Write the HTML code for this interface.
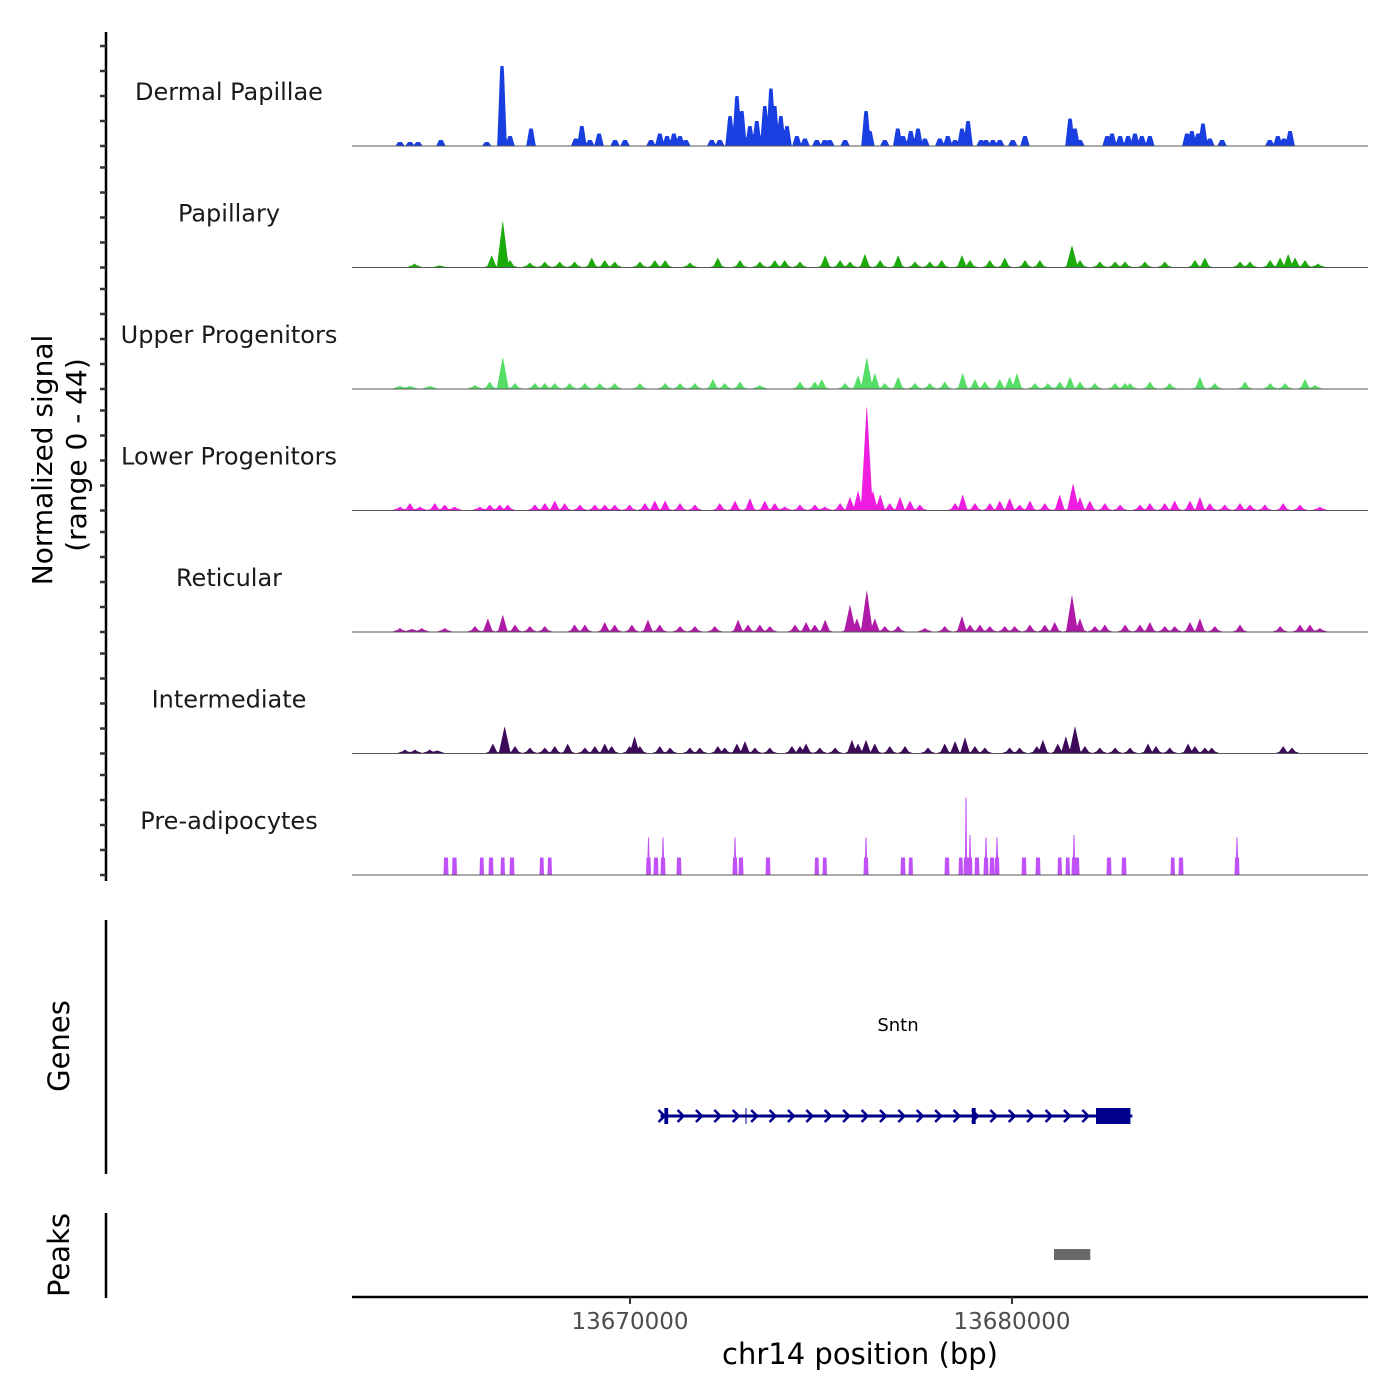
<!DOCTYPE html>
<html><head><meta charset="utf-8"><style>
html,body{margin:0;padding:0;background:#fff}
svg{display:block;font-family:"DejaVu Sans","Liberation Sans",sans-serif}
</style></head><body>
<svg id="chart" width="1400" height="1400" viewBox="0 0 1400 1400" xmlns="http://www.w3.org/2000/svg">
<rect width="1400" height="1400" fill="#fff"/>
<g id="tracks"></g>
<line x1="106" y1="32" x2="106" y2="881" stroke="#000" stroke-width="2.5"/>
<g id="yticks"></g>
<text transform="translate(52,460) rotate(-90)" text-anchor="middle" font-size="28" fill="#000">Normalized signal</text>
<text transform="translate(86,455) rotate(-90)" text-anchor="middle" font-size="28" fill="#000">(range 0 - 44)</text>

<line x1="106" y1="920" x2="106" y2="1174" stroke="#000" stroke-width="2.5"/>
<text transform="translate(69,1046) rotate(-90)" text-anchor="middle" font-size="29">Genes</text>
<g id="gene"></g>

<line x1="106" y1="1213" x2="106" y2="1298" stroke="#000" stroke-width="2.5"/>
<text transform="translate(69,1255) rotate(-90)" text-anchor="middle" font-size="29">Peaks</text>
<g id="peaks"></g>

<line x1="352" y1="1297" x2="1368" y2="1297" stroke="#000" stroke-width="2.5"/>
<g id="xticks"></g>
<text x="860" y="1364" text-anchor="middle" font-size="29">chr14 position (bp)</text>
</svg>
<script>
// genomic window
const regionStart = 13662723;
const regionEnd = 13689320;
const xTickValues = [13670000, 13680000];
const xTickLabels = ["13670000", "13680000"];
const yMax = 44;
const yTickValues = [0, 10, 20, 30, 40];
// track names and colors
const trackNames = ["Dermal Papillae","Papillary","Upper Progenitors","Lower Progenitors","Reticular","Intermediate","Pre-adipocytes"];
const trackColors = ["#1a3fe0","#1aaa0a","#55dd66","#ee1de0","#b01aa8","#3d0a5a","#c050f8"];
// peaks per track: positions in kb offset from 13,660,000 ; values in normalized signal
const dpPos = [3.98,4.24,4.45,5.05,6.25,6.65,6.86,7.41,8.58,8.74,8.95,9.19,9.61,9.87,10.55,10.78,10.97,11.15,11.31,11.46,12.14,12.35,12.62,12.80,12.93,13.14,13.32,13.53,13.69,13.79,13.95,14.11,14.37,14.58,14.89,15.10,15.23,15.63,16.18,16.28,16.67,17.01,17.15,17.35,17.54,17.72,18.11,18.32,18.51,18.69,18.85,19.19,19.32,19.50,19.68,20.02,20.34,21.52,21.65,21.78,22.49,22.62,22.83,23.04,23.22,23.40,23.61,24.58,24.71,24.87,25.00,25.18,25.50,26.75,26.96,27.12,27.28];
const dpVal = [1.6,1.6,1.6,2.4,1.6,32,4,7,3,8,2.4,5,2.4,2.4,2.4,5,4,5,4,2.4,2.4,2.4,12,20,14,8,10,16,23,16,12,8,4,3,2.4,2.4,2.4,2.4,14,6,2.4,7,4,6,7,3,3,4,2.4,7,10,2.4,2.4,2.4,2.4,2.4,4,11,7,2.4,4,5,4,4,5,4,4,5,6,5,9,3,2.4,2.4,4,3,6];
const paPos = [4.36,5.02,6.38,6.67,6.86,7.38,7.77,8.16,8.55,9.00,9.34,9.60,10.26,10.65,10.92,11.57,12.30,12.88,13.40,13.79,14.05,14.45,15.11,15.50,15.76,16.15,16.55,17.02,17.46,17.85,18.16,18.69,18.90,19.42,19.81,20.34,20.73,21.57,21.78,22.30,22.70,22.96,23.48,24.00,24.79,25.05,25.97,26.23,26.76,27.02,27.23,27.41,27.67,28.01];
const paVal = [1.6,0.8,5,19,3,2,2.4,2.4,2.4,4,3,2.4,2.4,3,3,2,4,3,2.4,3,3,2.4,5,3,2.4,5.5,3,5,2.4,2.4,3,5,3,3,4,3,3,9,3,2.4,2.4,2.4,2.4,2.4,3,4,2.4,2.4,3,4,5.5,4,3,1.6];
const upPos = [3.98,4.24,4.76,5.94,6.33,6.67,6.99,7.51,7.77,8.03,8.42,8.82,9.21,9.60,10.26,10.92,11.31,11.70,12.17,12.48,12.88,13.40,14.45,14.84,15.02,15.63,15.97,16.20,16.41,16.67,17.02,17.46,17.85,18.24,18.71,19.03,19.29,19.68,19.94,20.13,20.60,20.94,21.25,21.52,21.78,22.17,22.70,22.96,23.09,23.61,24.13,24.92,25.31,26.10,26.76,27.15,27.67,27.93];
const upVal = [1.2,1.2,1.2,1.6,3,13,2.4,2.4,2.4,2.4,2.4,2.4,2.4,2.4,2.4,2.4,2.4,2.4,4,2.4,3,1.6,3,3,4,2.4,5.5,13,6.5,2.4,5,2.4,2.4,3,6.5,4,3,4,5,6.5,2.4,2.4,3,5,3,2.4,2.4,2.4,2.4,3,2.4,5,2.4,3,2.4,2.4,4,1.6];
const loPos = [3.98,4.24,4.50,4.89,5.15,5.41,6.07,6.33,6.59,6.80,7.51,7.77,8.03,8.29,8.69,9.08,9.34,9.60,9.99,10.39,10.65,10.92,11.31,11.70,12.35,12.75,13.14,13.53,13.79,14.05,14.45,14.84,15.10,15.50,15.76,15.97,16.20,16.36,16.55,16.80,17.07,17.33,17.59,18.51,18.71,19.03,19.42,19.68,19.94,20.20,20.47,20.86,21.25,21.60,21.78,22.04,22.43,22.83,23.35,23.61,24.00,24.26,24.66,24.92,25.18,25.57,25.97,26.23,26.62,27.10,27.54,28.06];
const loVal = [1.6,3,1.6,3,2.4,1.6,1.6,2.4,2.4,2.4,2.4,3,4,3,2.4,2.4,2.4,2.4,2.4,3,4,4,3,2.4,3,4,5,4,3,1.6,2.4,2.4,1.6,3,5.5,8,43,8,6.5,3,5.5,4,2.4,3,6.5,3,3,4,5,2.4,4,3,6.5,11,5.5,4,3,2.4,2.4,3,3,4,4,5.5,3,2.4,3,2.4,2.4,3,2.4,1.6];
const rePos = [3.98,4.29,4.55,5.15,5.94,6.28,6.67,6.99,7.38,7.77,8.55,8.82,9.34,9.60,10.05,10.47,10.78,11.31,11.70,12.22,12.83,13.09,13.40,13.66,14.32,14.61,14.84,15.11,15.76,15.94,16.20,16.41,16.67,17.02,17.72,18.24,18.69,18.90,19.16,19.42,19.81,20.07,20.47,20.86,21.12,21.57,21.78,22.17,22.43,22.96,23.35,23.61,24.00,24.26,24.66,24.92,25.31,25.97,27.02,27.54,27.80,28.06];
const reVal = [1.6,1.2,1.6,1.6,2.4,5.5,7,3,2.4,2.4,3,3,4,3,3,5,3,2.4,2.4,2.4,5,3,3,2.4,3,4,3,5,11,5.5,17,5.5,2.4,2.4,1.6,2.4,6.5,3,3,2.4,2.4,2.4,3,3,4,15,5.5,2.4,3,3,3,4,2.4,2.4,4,5.5,2.4,3,2.4,3,3,1.6];
const inPos = [4.11,4.37,4.76,4.95,6.41,6.72,6.99,7.38,7.77,8.03,8.37,8.82,9.08,9.34,9.52,9.99,10.12,10.26,10.78,11.05,11.57,11.83,12.30,12.48,12.80,13.01,13.27,13.66,14.24,14.45,14.61,14.97,15.37,15.81,15.97,16.18,16.41,16.80,17.20,17.80,18.24,18.51,18.77,19.03,19.29,19.94,20.20,20.65,20.81,21.20,21.41,21.65,21.91,22.30,22.70,23.09,23.56,23.77,24.13,24.61,24.79,25.05,25.23,27.10,27.33];
const inVal = [1.6,1.6,1.6,1.2,4,11,3,2.4,2.4,3,4,2.4,3,4,3,3,7,3,3,2.4,2.4,2.4,3,2.4,4,5,2.4,2.4,3,3,4,2.4,2.4,5.5,4,5.5,4,3,3,2.4,4,5,6.5,3,2.4,2.4,2.4,3,5.5,4,7,11,3,2.4,2.4,2.4,4,3,2.4,4,3,2.4,2.4,3,2.4];
const prPos = [5.18,5.41,6.12,6.36,6.67,6.91,7.69,7.90,10.49,10.68,10.86,11.28,12.75,12.91,13.61,14.89,15.10,16.18,17.15,17.35,18.30,18.66,18.80,18.90,19.08,19.32,19.48,19.61,20.31,20.68,21.25,21.46,21.62,21.70,22.54,22.93,24.21,24.42,25.89];
const prVal = [7,7,7,7,7,7,7,7,15,7,15,7,15,7,7,7,7,15,7,7,7,7,31,16,7,15,7,15,7,7,7,7,16,7,7,7,7,7,15];
const trackPos = [dpPos,paPos,upPos,loPos,rePos,inPos,prPos];
const trackVal = [dpVal,paVal,upVal,loVal,reVal,inVal,prVal];
// gene model (bp)
const geneStart = 13670800, geneEnd = 13683150;
const exonStarts = [13670900, 13678950, 13682200];
const exonEnds   = [13671000, 13679050, 13683100];
const geneName = "Sntn";
const peakStarts = [13681100];
const peakEnds = [13682050];

const NS = "http://www.w3.org/2000/svg";
const xL = 352, xR = 1368;
function xs(bp){ return xL + (bp - regionStart) / (regionEnd - regionStart) * (xR - xL); }
const trackH = 110, baseTop = 146, trackStep = 121.5;
function mk(tag, attrs, parent){ const e = document.createElementNS(NS, tag); for (const k in attrs) e.setAttribute(k, attrs[k]); parent.appendChild(e); return e; }

const tracksG = document.getElementById('tracks');
const yticksG = document.getElementById('yticks');
const shapes = ["block","tri","tri","tri","tri","tri","rect"];
for (let t = 0; t < trackNames.length; t++) {
  const base = baseTop + t * trackStep;
  const ys = v => base - v / yMax * trackH;
  const g = mk('g', {}, tracksG);
  
  
  const pos = trackPos[t], val = trackVal[t];
  let d = `M${xL},${base}`;
  for (let px = xL; px <= xR; px += 0.5) {
    let v = 0;
    for (let i = 0; i < pos.length; i++) {
      const cx = xs(13660000 + pos[i] * 1000);
      const dx = Math.abs(px - cx);
      let f = 0;
      if (shapes[t] === "rect") f = dx <= 0.8 ? val[i] : (dx <= 2.2 ? Math.min(val[i], 7) : 0);
      else if (shapes[t] === "block") f = val[i] * (dx <= 1.8 ? 1 : Math.max(0, 1 - (dx - 1.8) / 3));
      else {
        const w = val[i] > 8 ? 6 : 5;
        f = val[i] * Math.max(0, 1 - dx / w);
        if (dx < w + 4) f = Math.max(f, Math.min(val[i], 1.2) * (1 - dx / (w + 4)));
      }
      v = Math.max(v, f);
    }
    d += `L${px},${ys(v).toFixed(2)}`;
  }
  d += `L${xR},${base}Z`;
  const area = mk('path', {d: d, fill: trackColors[t], stroke: 'none'}, g);
  
  
  const bl = mk('line', {x1: xL, x2: xR, y1: base, y2: base, stroke: '#555', 'stroke-width': 1}, g);
  
  
  const lab = mk('text', {x: 229, y: base - 46, 'text-anchor': 'middle', 'font-size': 24, fill: '#1a1a1a'}, g);
  lab.textContent = trackNames[t];
  
  
  for (const tv of yTickValues) {
    const tk = mk('line', {x1: 100, x2: 106, y1: ys(tv), y2: ys(tv), stroke: '#333', 'stroke-width': 2.5}, yticksG);
    
    
  }
}

// x ticks
const xtG = document.getElementById('xticks');
xTickValues.forEach((v, i) => {
  const x = xs(v);
  const tk = mk('line', {x1: x, x2: x, y1: 1297, y2: 1304, stroke: '#333', 'stroke-width': 2}, xtG);
  
  
  const lb = mk('text', {x: x, y: 1329, 'text-anchor': 'middle', 'font-size': 23, fill: '#4d4d4d'}, xtG);
  lb.textContent = xTickLabels[i];
  
  
});

// gene
const gG = document.getElementById('gene');
const gy = 1116, gc = '#00008b';
const gl = mk('line', {x1: xs(geneStart), x2: xs(geneEnd), y1: gy, y2: gy, stroke: gc, 'stroke-width': 3}, gG);


for (let x = xs(geneStart) + 20; x < xs(exonStarts[2]) - 4; x += 18.4) {
  const ch = mk('path', {d: `M${x-3},${gy-6}L${x+3},${gy}L${x-3},${gy+6}`, fill: 'none', stroke: gc, 'stroke-width': 2.5}, gG);
  
  
}
const ch0 = mk('path', {d: `M${xs(geneStart)-2},${gy-6}L${xs(geneStart)+4},${gy}L${xs(geneStart)-2},${gy+6}`, fill: 'none', stroke: gc, 'stroke-width': 2.5}, gG);


const thin = mk('line', {x1: 746, x2: 746, y1: gy-8, y2: gy+8, stroke: gc, 'stroke-width': 1}, gG);


exonStarts.forEach((s, i) => {
  const big = i === 2;
  const x1 = xs(s), x2 = xs(exonEnds[i]);
  const r = mk('rect', {x: x1, y: gy - 8, width: Math.max(3, x2 - x1), height: 16, fill: gc}, gG);
  
  
});
const gn = mk('text', {x: 898, y: 1031, 'text-anchor': 'middle', 'font-size': 18, fill: '#000'}, gG);
gn.textContent = geneName;



// peaks
const pG = document.getElementById('peaks');
peakStarts.forEach((s, i) => {
  const r = mk('rect', {x: xs(s), y: 1249, width: xs(peakEnds[i]) - xs(s), height: 11, fill: '#696969'}, pG);
  
  
});
</script>
</body></html>
